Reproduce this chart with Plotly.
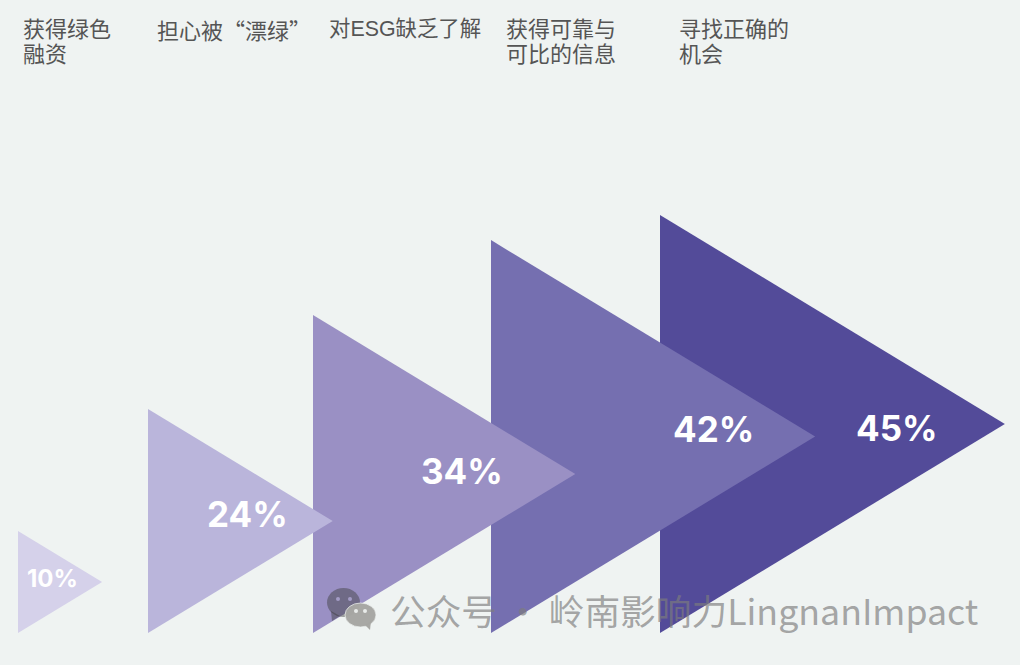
import plotly.graph_objects as go

# Data
QUOTE = "<span style=\"font-family:'Noto Sans CJK SC'\">{}</span>"
categories = [["获得绿色", "融资"], ["担心被" + QUOTE.format("“") + "漂绿" + QUOTE.format("”")], ["对ESG缺乏了解"],
              ["获得可靠与", "可比的信息"], ["寻找正确的", "机会"]]
value_labels = ["10%", "24%", "34%", "42%", "45%"]
drawn_heights = [10.95, 24.05, 34.15, 42.2, 44.9]  # triangle heights in % units (first one is drawn slightly oversize)
colors = ["#D5D1EA", "#BAB5DB", "#9A90C4", "#756FB0", "#534B99"]
left_edges = [18, 148, 313, 491, 660]
label_x = [52, 247, 462, 713, 897]
label_y_shift = [-4, -7, -3, -8, 4]
label_sizes = [24, 35, 35, 35, 35]
cat_x = [24, 158, 330, 507, 680]
cat_sizes = [22, 22, 21.4, 22, 22]

W, H = 1020, 665
PX_PER_UNIT = 9.31
BASE_PX = 633
ASPECT = 0.825

fig = go.Figure()
# later triangles sit behind earlier ones
for h, c, x0 in reversed(list(zip(drawn_heights, colors, left_edges))):
    width = h * PX_PER_UNIT * ASPECT
    fig.add_trace(go.Scatter(x=[x0, x0 + width, x0, x0], y=[0, h / 2, h, 0], mode="lines",
                             fill="toself", fillcolor=c, line=dict(width=0), hoverinfo="skip"))

y_of = lambda px: (BASE_PX - px) / PX_PER_UNIT

# value labels
for h, t, x, dy, s in zip(drawn_heights, value_labels, label_x, label_y_shift, label_sizes):
    fig.add_annotation(x=x, y=h / 2, text=f"<b>{t}</b>", showarrow=False, xanchor="center", yanchor="middle",
                       yshift=-dy, font=dict(family="Inter, Liberation Sans", size=s, color="white"))

# category labels, on the reference's tighter line pitch
for lines, x, s in zip(categories, cat_x, cat_sizes):
    for i, line in enumerate(lines):
        fig.add_annotation(x=x, y=y_of(29 + 25 * i), text=line, showarrow=False, xanchor="left", yanchor="middle",
                           xshift=-3, font=dict(family="Liberation Sans, Noto Sans CJK SC", size=s, color="#555555"))

# watermark text
fig.add_annotation(x=392, y=y_of(609), text="公众号 · 岭南影响力LingnanImpact", showarrow=False, xanchor="left",
                   yanchor="middle", xshift=-4, font=dict(family="Noto Sans CJK SC", size=35.7, color="rgba(125,125,125,0.68)"))

# watermark icon: two chat bubbles
def ellipse(x0, x1, y0, y1, fill, line=None):
    fig.add_shape(type="circle", x0=x0, x1=x1, y0=y_of(y0), y1=y_of(y1), fillcolor=fill,
                  line=dict(width=1 if line else 0, color=line or fill))

def tail(pts, fill):
    path = "M " + " L ".join(f"{x} {y_of(y)}" for x, y in pts) + " Z"
    fig.add_shape(type="path", path=path, fillcolor=fill, line=dict(width=0))

BIG, SMALL = "rgba(60,60,60,0.45)", "rgba(166,166,163,0.98)"
ellipse(327, 360, 588, 617, BIG)
tail([(331, 611), (332, 621), (340, 616)], BIG)
ellipse(345, 376, 603, 627, SMALL, "rgba(239,243,242,0.7)")
tail([(365, 625), (370, 630), (371, 621)], SMALL)
for cx in (338, 350):
    ellipse(cx - 2, cx + 2, 597, 601, "rgba(170,162,205,0.9)")
for cx in (356, 365):
    ellipse(cx - 2, cx + 2, 609, 613, "rgba(240,243,242,0.9)")

fig.update_layout(width=W, height=H, autosize=False, margin=dict(l=0, r=0, t=0, b=0), showlegend=False,
                  paper_bgcolor="#EFF3F2", plot_bgcolor="#EFF3F2",
                  xaxis=dict(range=[0, W], visible=False, fixedrange=True),
                  yaxis=dict(range=[y_of(H), y_of(0)], visible=False, fixedrange=True))
fig.write_html("out.html", config={"displayModeBar": False},
               post_script="document.body.style.margin='0';document.body.style.background='#EFF3F2';")
